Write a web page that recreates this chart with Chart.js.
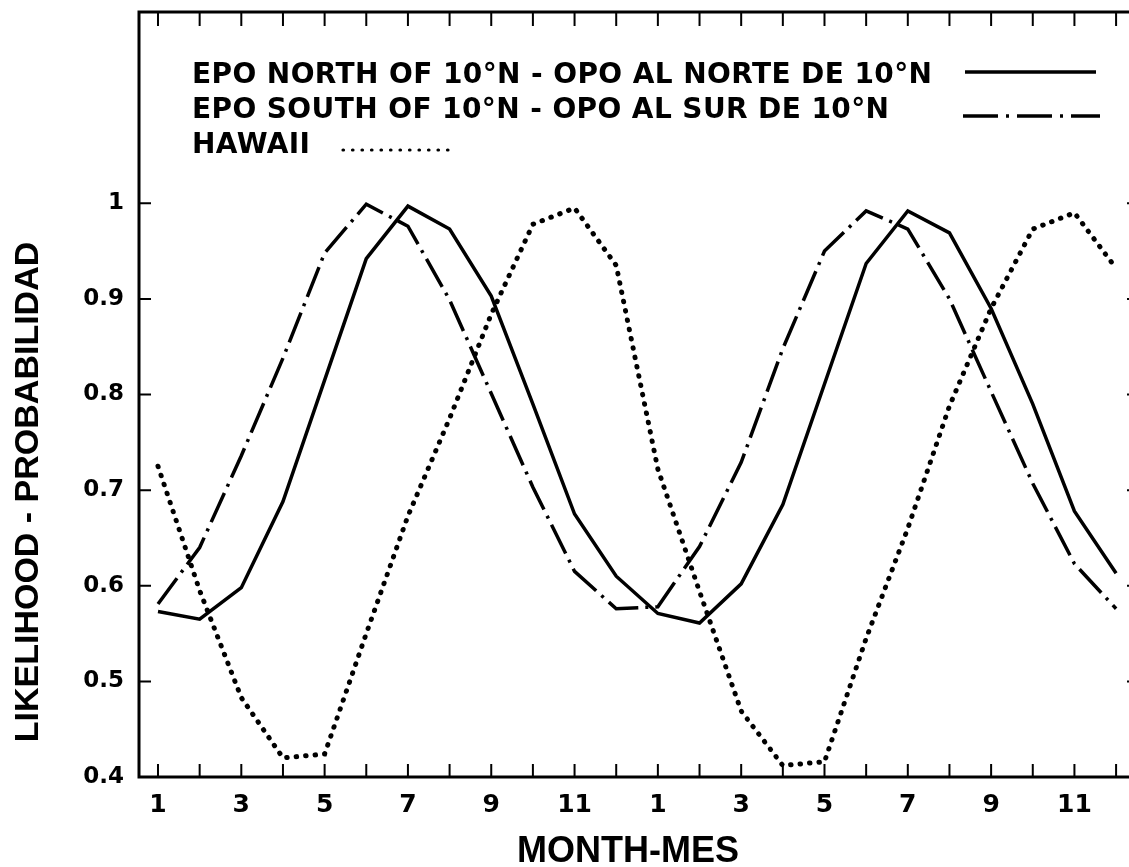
<!DOCTYPE html>
<html>
<head>
<meta charset="utf-8">
<script src="https://cdn.jsdelivr.net/npm/chart.js@4.4.0/dist/chart.umd.min.js"></script>
<style>
  html, body { margin: 0; padding: 0; background: #fff; overflow: hidden; }
  #wrap { width: 1129px; height: 867px; overflow: hidden; }
</style>
</head>
<body>
<div id="wrap"><canvas id="chart" width="1145" height="867"></canvas></div>
<script>
// two years of months along the x axis
const months = [1, 2, 3, 4, 5, 6, 7, 8, 9, 10, 11, 12, 1, 2, 3, 4, 5, 6, 7, 8, 9, 10, 11, 12];

// likelihood values
const epoNorth = [0.573, 0.565, 0.598, 0.688, 0.815, 0.942, 0.997, 0.973, 0.903, 0.79, 0.675, 0.61,
                  0.571, 0.561, 0.602, 0.685, 0.811, 0.937, 0.992, 0.969, 0.89, 0.79, 0.678, 0.613];
const epoSouth = [0.581, 0.64, 0.736, 0.838, 0.948, 0.999, 0.976, 0.899, 0.801, 0.703, 0.615, 0.576,
                  0.578, 0.641, 0.729, 0.848, 0.95, 0.992, 0.973, 0.9, 0.803, 0.707, 0.623, 0.576];
const hawaii   = [0.725, 0.595, 0.483, 0.42, 0.424, 0.55, 0.673, 0.775, 0.884, 0.978, 0.995, 0.935,
                  0.722, 0.594, 0.469, 0.412, 0.416, 0.545, 0.66, 0.788, 0.89, 0.973, 0.99, 0.932];

const yTicks = [0.4, 0.5, 0.6, 0.7, 0.8, 0.9, 1.0];
const yTickLabels = ['0.4', '0.5', '0.6', '0.7', '0.8', '0.9', '1'];
const legendLabels = ['EPO NORTH OF 10°N - OPO AL NORTE DE 10°N', 'EPO SOUTH OF 10°N - OPO AL SUR DE 10°N', 'HAWAII'];
const xTitle = 'MONTH-MES';
const yTitle = 'LIKELIHOOD - PROBABILIDAD';

const tickFont = { family: 'DejaVu Sans', size: 23, weight: 'bold' };
const toPoints = arr => arr.map((v, i) => ({ x: i, y: v }));
const noPad = s => { s.paddingTop = 0; s.paddingBottom = 0; s.paddingLeft = 0; s.paddingRight = 0; };

// frame, inward tick marks, axis titles and the legend inside the plot
const framePlugin = {
  id: 'frame',
  afterDatasetsDraw(chart) {
    const { ctx, chartArea: a, scales } = chart;
    ctx.save();
    ctx.strokeStyle = '#000';
    ctx.lineWidth = 3;
    ctx.strokeRect(a.left, a.top, a.right - a.left, a.bottom - a.top);

    ctx.lineWidth = 2;
    ctx.beginPath();
    scales.x.ticks.forEach(t => {
      const x = scales.x.getPixelForValue(t.value);
      ctx.moveTo(x, a.bottom); ctx.lineTo(x, a.bottom - 13);
      ctx.moveTo(x, a.top); ctx.lineTo(x, a.top + 14);
    });
    scales.y.ticks.forEach(t => {
      const y = scales.y.getPixelForValue(t.value);
      ctx.moveTo(a.left, y); ctx.lineTo(a.left + 12, y);
      ctx.moveTo(a.right, y); ctx.lineTo(a.right - 12, y);
    });
    ctx.stroke();

    // axis titles
    ctx.fillStyle = '#000';
    ctx.textAlign = 'center';
    ctx.textBaseline = 'middle';
    ctx.font = 'bold 36px "Liberation Sans"';
    ctx.fillText(xTitle, 628, 852);
    ctx.save();
    ctx.translate(29, 492);
    ctx.rotate(-Math.PI / 2);
    ctx.font = 'bold 34px "Liberation Sans"';
    ctx.fillText(yTitle, 0, 0);
    ctx.restore();

    // legend
    ctx.textAlign = 'left';
    ctx.textBaseline = 'alphabetic';
    ctx.font = 'bold 28px "DejaVu Sans"';
    ctx.letterSpacing = '0.4px';
    const lx = a.left + 53;
    ctx.fillText(legendLabels[0], lx, 83);
    ctx.fillText(legendLabels[1], lx, 118);
    ctx.fillText(legendLabels[2], lx, 153);

    ctx.lineWidth = 3.5;
    ctx.lineCap = 'butt';
    ctx.beginPath(); ctx.moveTo(965, 72); ctx.lineTo(1096, 72); ctx.stroke();
    ctx.setLineDash([35, 8, 3, 8]);
    ctx.beginPath(); ctx.moveTo(963, 116); ctx.lineTo(1100, 116); ctx.stroke();
    ctx.setLineDash([0.5, 9]);
    ctx.lineCap = 'round';
    ctx.lineWidth = 3.2;
    ctx.beginPath(); ctx.moveTo(343, 150); ctx.lineTo(456, 150); ctx.stroke();
    ctx.restore();
  }
};

new Chart(document.getElementById('chart'), {
  type: 'line',
  data: {
    datasets: [
      { label: legendLabels[0], data: toPoints(epoNorth), borderColor: '#000', borderWidth: 3.5, pointRadius: 0, tension: 0 },
      { label: legendLabels[1], data: toPoints(epoSouth), borderColor: '#000', borderWidth: 3.5, borderDash: [32, 7, 3, 7], pointRadius: 0, tension: 0 },
      { label: legendLabels[2], data: toPoints(hawaii), borderColor: '#000', borderWidth: 5, borderDash: [0.5, 9], borderCapStyle: 'round', pointRadius: 0, tension: 0 }
    ]
  },
  options: {
    responsive: false,
    animation: false,
    layout: { padding: { top: 12, right: 6, left: 0, bottom: 0 } },
    plugins: { legend: { display: false }, tooltip: { enabled: false } },
    scales: {
      x: {
        type: 'linear',
        min: -0.456,
        max: 23.55,
        afterBuildTicks: s => { s.ticks = months.map((m, i) => ({ value: i })); },
        afterFit: s => { s.height = 90; noPad(s); },
        grid: { display: false, drawTicks: false },
        border: { display: false },
        ticks: {
          autoSkip: false, maxRotation: 0, padding: 13, color: '#000', font: { ...tickFont, size: 25 },
          callback: v => (months[v] % 2 === 1 ? String(months[v]) : '')
        }
      },
      y: {
        min: 0.4,
        max: 1.2,
        afterBuildTicks: s => { s.ticks = yTicks.map(v => ({ value: v })); },
        afterFit: s => { s.width = 139; noPad(s); },
        grid: { display: false, drawTicks: false },
        border: { display: false },
        ticks: { padding: 15, color: '#000', font: tickFont, callback: (v, i) => yTickLabels[i] }
      }
    }
  },
  plugins: [framePlugin]
});
</script>
</body>
</html>
